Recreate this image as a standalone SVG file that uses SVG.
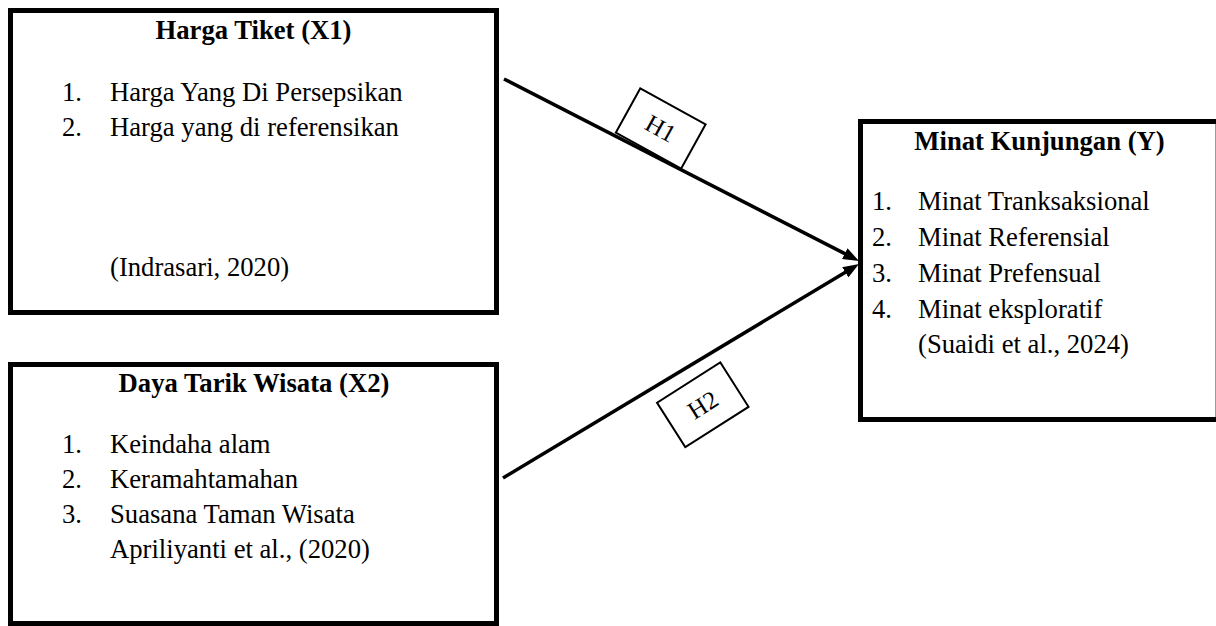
<svg xmlns="http://www.w3.org/2000/svg" width="1216" height="626" viewBox="0 0 1216 626">
<style>
  .box { fill: #ffffff; stroke: #000000; stroke-width: 5; }
  .lbl { fill: #ffffff; stroke: #000000; stroke-width: 2; }
  .t { font-family: "Liberation Serif", "Times New Roman", serif; font-size: 26.67px; fill: #000000; }
  .title { font-weight: bold; text-anchor: middle; }
  .h { font-family: "Liberation Serif", "Times New Roman", serif; font-size: 25px; fill: #000000; text-anchor: middle; dominant-baseline: central; }
  .conn { stroke: #000000; stroke-width: 3.5; fill: none; }
</style>
<defs>
  <marker id="arrow" markerUnits="userSpaceOnUse" markerWidth="16" markerHeight="12" refX="6" refY="6" orient="auto">
    <path d="M0,0 L16,6 L0,12 z" fill="#000000"/>
  </marker>
</defs>
<rect width="1216" height="626" fill="#ffffff"/>

<g id="node-x1">
  <rect class="box" x="10.5" y="10.5" width="486" height="302"/>
  <text class="t title" x="253.5" y="39">Harga Tiket (X1)</text>
  <text class="t" x="62" y="100.5">1.</text>
  <text class="t" x="110" y="100.5">Harga Yang Di Persepsikan</text>
  <text class="t" x="62" y="136">2.</text>
  <text class="t" x="110" y="136">Harga yang di referensikan</text>
  <text class="t" x="110" y="276">(Indrasari, 2020)</text>
</g>

<g id="node-x2">
  <rect class="box" x="10.5" y="364.5" width="486" height="259"/>
  <text class="t title" x="254" y="392">Daya Tarik Wisata (X2)</text>
  <text class="t" x="62" y="453">1.</text>
  <text class="t" x="110" y="453">Keindaha alam</text>
  <text class="t" x="62" y="488">2.</text>
  <text class="t" x="110" y="488">Keramahtamahan</text>
  <text class="t" x="62" y="523">3.</text>
  <text class="t" x="110" y="523">Suasana Taman Wisata</text>
  <text class="t" x="110" y="558">Apriliyanti et al., (2020)</text>
</g>

<g id="node-y">
  <rect class="box" x="860.5" y="121.5" width="370" height="298"/>
  <line x1="1215.5" y1="124" x2="1215.5" y2="417" stroke="#999999" stroke-width="1"/>
  <text class="t title" x="1039.5" y="150">Minat Kunjungan (Y)</text>
  <text class="t" x="872" y="210">1.</text>
  <text class="t" x="918" y="210">Minat Tranksaksional</text>
  <text class="t" x="872" y="246">2.</text>
  <text class="t" x="918" y="246">Minat Referensial</text>
  <text class="t" x="872" y="282">3.</text>
  <text class="t" x="918" y="282">Minat Prefensual</text>
  <text class="t" x="872" y="317.5">4.</text>
  <text class="t" x="918" y="317.5">Minat eksploratif</text>
  <text class="t" x="918" y="353">(Suaidi et al., 2024)</text>
</g>

<g id="connectors">
  <line class="conn" x1="504" y1="79" x2="850.1" y2="256.4" marker-end="url(#arrow)"/>
  <line class="conn" x1="503" y1="478" x2="850.4" y2="269.2" marker-end="url(#arrow)"/>
  <g id="label-h1" transform="translate(660.7,128.5) rotate(28.9)">
    <rect class="lbl" x="-37.3" y="-25.3" width="74.6" height="50.6"/>
    <text class="h" x="0" y="0">H1</text>
  </g>
  <g id="label-h2" transform="translate(702.8,404.8) rotate(-32.5)">
    <rect class="lbl" x="-37.5" y="-26.3" width="75" height="52.6"/>
    <text class="h" x="0" y="0">H2</text>
  </g>
</g>
</svg>
